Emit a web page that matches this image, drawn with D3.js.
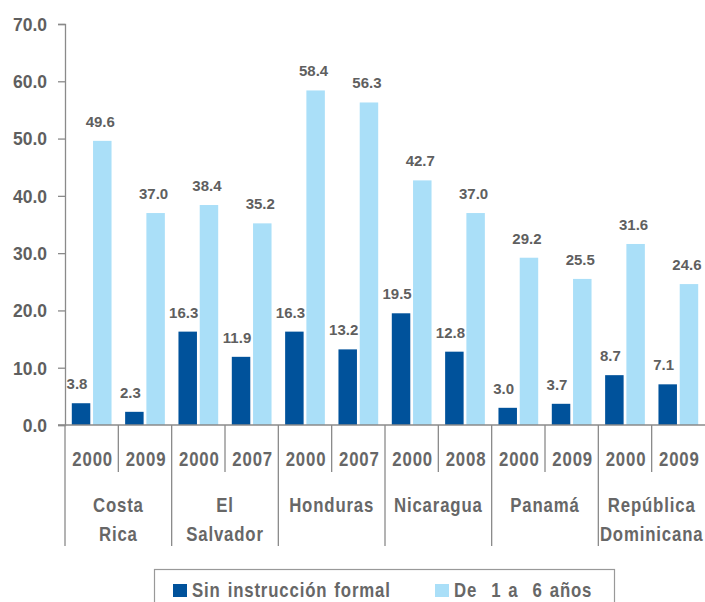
<!DOCTYPE html>
<html>
<head>
<meta charset="utf-8">
<script src="https://cdn.jsdelivr.net/npm/d3@7/dist/d3.min.js"></script>
<style>
  html, body { margin: 0; padding: 0; background: #fff; }
  svg { display: block; }
  .num { font-family: "Liberation Sans", Arial, sans-serif; font-weight: bold; fill: #5f5f5f; }
  .cond { font-family: "Liberation Sans", Arial, sans-serif; font-weight: bold; fill: #676767; letter-spacing: 1px; }
</style>
</head>
<body>
<svg id="chart" width="705" height="602"></svg>
<script>
// Countries and the survey years shown for each
const countries = ["Costa Rica", "El Salvador", "Honduras", "Nicaragua", "Panamá", "República Dominicana"];
const countryLines = [["Costa", "Rica"], ["El", "Salvador"], ["Honduras"], ["Nicaragua"], ["Panamá"], ["República", "Dominicana"]];
const years = [["2000", "2009"], ["2000", "2007"], ["2000", "2007"], ["2000", "2008"], ["2000", "2009"], ["2000", "2009"]];

// Percentages per country-year, in the same order as above
const sinInstruccion = [3.8, 2.3, 16.3, 11.9, 16.3, 13.2, 19.5, 12.8, 3.0, 3.7, 8.7, 7.1];
const deUnoASeis = [49.6, 37.0, 38.4, 35.2, 58.4, 56.3, 42.7, 37.0, 29.2, 25.5, 31.6, 24.6];

const seriesNames = ["Sin instrucción formal", "De  1 a  6 años"];
const seriesColors = ["#00529b", "#aadff8"];
const yTicks = [0, 10, 20, 30, 40, 50, 60, 70];

const svg = d3.select("#chart");
const plotLeft = 65, plotRight = 705, plotTop = 24, base = 425;
const narrow = 0.84; // horizontal squeeze for the condensed labels

// Condensed label helper: text squeezed horizontally around its anchor point
function condText(parent, px, py, size, anchor) {
  return parent.append("text")
    .attr("class", "cond")
    .style("font-size", size + "px")
    .style("white-space", "pre")
    .attr("text-anchor", anchor)
    .attr("transform", `translate(${px},${py}) scale(${narrow},1)`);
}

// One band per country-year pair
const slots = [];
countries.forEach((c, i) => years[i].forEach(yr => slots.push({ country: c, ci: i, year: yr })));
slots.forEach((s, i) => { s.id = i; s.values = [sinInstruccion[i], deUnoASeis[i]]; });

const x = d3.scaleBand().domain(slots.map(s => s.id)).range([plotLeft, plotRight]).paddingInner(0).paddingOuter(0);
const inner = d3.scaleBand().domain([0, 1]).range([0, x.bandwidth()]).paddingInner(0.13).paddingOuter(0.32);
const y = d3.scaleLinear().domain([0, 70]).range([base, plotTop]);

// Y axis
const yAxis = d3.axisLeft(y).tickValues(yTicks).tickFormat(d3.format(".1f")).tickSize(7).tickPadding(11);
const gy = svg.append("g").attr("transform", `translate(${plotLeft},0)`).call(yAxis);
gy.select(".domain").attr("stroke", "#8a8a8a").attr("stroke-width", 1.3);
gy.selectAll(".tick line").attr("stroke", "#8a8a8a").attr("stroke-width", 1.3);
gy.selectAll(".tick text").attr("class", "num").style("font-size", "17.5px").attr("fill", "#5f5f5f").attr("dy", "0.36em");

// Bars
const groups = svg.append("g").selectAll("g").data(slots).join("g")
  .attr("transform", d => `translate(${x(d.id)},0)`);
groups.selectAll("rect").data(d => d.values.map((v, k) => ({ v, k }))).join("rect")
  .attr("x", d => inner(d.k))
  .attr("width", inner.bandwidth())
  .attr("y", d => y(d.v))
  .attr("height", d => base - y(d.v))
  .attr("fill", d => seriesColors[d.k]);

// Value labels above bars
groups.selectAll("text").data(d => d.values.map((v, k) => ({ v, k }))).join("text")
  .attr("class", "num")
  .style("font-size", "15px")
  .attr("text-anchor", "middle")
  .attr("x", d => inner(d.k) + inner.bandwidth() / 2 + (d.k === 0 ? -4 : -2))
  .attr("y", d => y(d.v) - 14)
  .text(d => d3.format(".1f")(d.v));

// Baseline and category dividers
const lineColor = "#8a8a8a";
svg.append("line").attr("x1", plotLeft - 7).attr("x2", plotRight).attr("y1", base).attr("y2", base)
  .attr("stroke", lineColor).attr("stroke-width", 1.3);
svg.append("line").attr("x1", plotLeft).attr("x2", plotLeft).attr("y1", base).attr("y2", 546)
  .attr("stroke", lineColor).attr("stroke-width", 1.3);
slots.forEach((s, i) => {
  if (i === 0) return;
  const xx = x(s.id);
  const groupEdge = slots[i - 1].ci !== s.ci;
  svg.append("line").attr("x1", xx).attr("x2", xx).attr("y1", base).attr("y2", groupEdge ? 546 : 472)
    .attr("stroke", lineColor).attr("stroke-width", 1.3);
});

// Year labels
const yearLayer = svg.append("g");
slots.forEach(s => {
  condText(yearLayer, x(s.id) + x.bandwidth() / 2 + 1, 466, 20, "middle").text(s.year);
});

// Country labels
const countryLayer = svg.append("g");
countries.forEach((c, i) => {
  const members = slots.filter(s => s.ci === i);
  const cx = (x(members[0].id) + x(members[members.length - 1].id) + x.bandwidth()) / 2;
  const t = condText(countryLayer, cx, 512, 20, "middle");
  countryLines[i].forEach((ln, k) => {
    t.append("tspan").attr("x", 0).attr("y", k * 29).text(ln);
  });
});

// Legend
const lg = svg.append("g");
lg.append("rect").attr("x", 154.5).attr("y", 569.5).attr("width", 460).attr("height", 50)
  .attr("fill", "#fff").attr("stroke", "#999").attr("stroke-width", 1.2);
const legendX = [173, 435];
seriesNames.forEach((n, k) => {
  lg.append("rect").attr("x", legendX[k]).attr("y", 584).attr("width", 14).attr("height", 13).attr("fill", seriesColors[k]);
  condText(lg, legendX[k] + 19, 597, 20, "start").style("word-spacing", "1.8px").text(n);
});
</script>
</body>
</html>
